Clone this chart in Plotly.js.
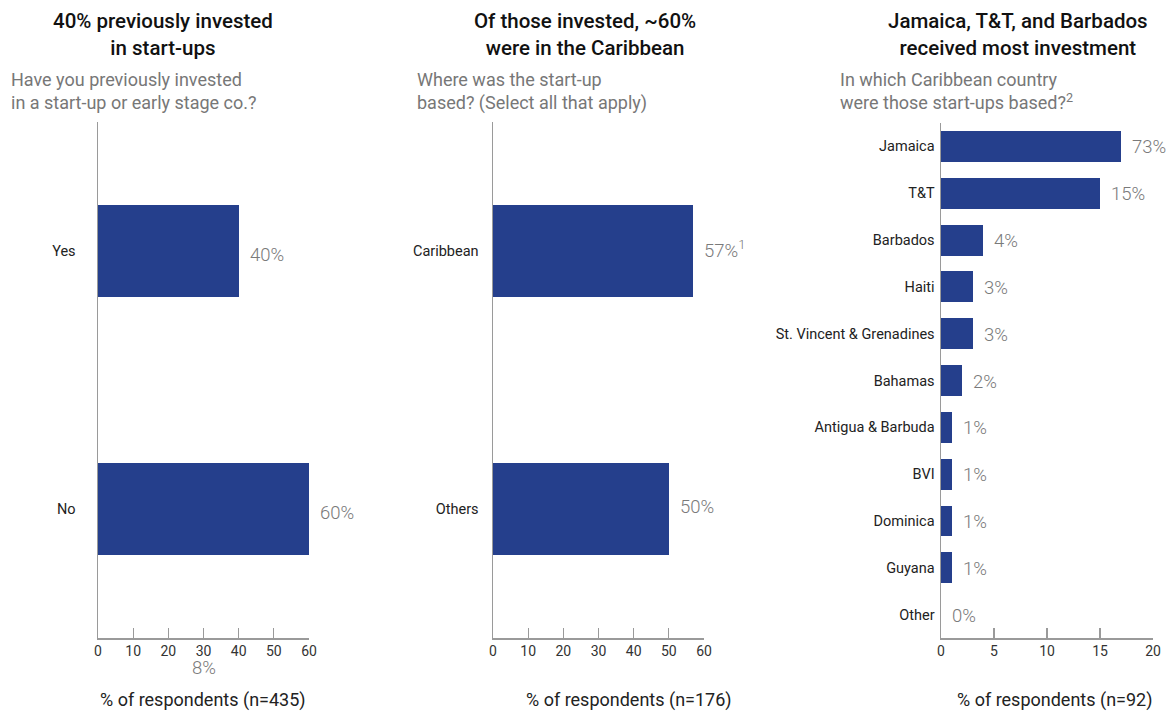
<!DOCTYPE html>
<html><head><meta charset="utf-8">
<script src="https://cdn.plot.ly/plotly-3.0.1.min.js"></script>
<style>html,body{margin:0;padding:0;background:#fff}</style>
</head><body>
<div id="chart" style="width:1166px;height:711px"></div>
<script>
// Panel 1
const p1Cats = ["Yes", "No"];
const p1Vals = [40, 60];
const p1Labels = ["40%", "60%"];
// Panel 2
const p2Cats = ["Caribbean", "Others"];
const p2Vals = [57, 50];
const p2Labels = ["57%<sup>1</sup>", "50%"];
// Panel 3
const p3Cats = ["Jamaica", "T&T", "Barbados", "Haiti", "St. Vincent & Grenadines", "Bahamas",
  "Antigua & Barbuda", "BVI", "Dominica", "Guyana", "Other"];
const p3Vals = [17, 15, 4, 3, 3, 2, 1, 1, 1, 1, 0];
const p3Labels = ["73%", "15%", "4%", "3%", "3%", "2%", "1%", "1%", "1%", "1%", "0%"];

const titles = ["40% previously invested<br>in start-ups",
  "Of those invested, ~60%<br>were in the Caribbean",
  "Jamaica, T&T, and Barbados<br>received most investment"];
const subtitles = ["Have you previously invested<br>in a start-up or early stage co.?",
  "Where was the start-up<br>based? (Select all that apply)",
  "In which Caribbean country<br>were those start-ups based?<sup>2</sup>"];
const axisTitles = ["% of respondents (n=435)", "% of respondents (n=176)", "% of respondents (n=92)"];

const W = 1166, H = 711;
const FONT = "Roboto, 'DejaVu Sans', sans-serif";
const BAR = "#253F8C";
const px = v => v / W;
const py = v => 1 - v / H;

const traces = [
  {type: "bar", orientation: "h", y: p1Cats, x: p1Vals, xaxis: "x", yaxis: "y",
   marker: {color: BAR}, width: 0.36, hoverinfo: "none"},
  {type: "bar", orientation: "h", y: p2Cats, x: p2Vals, xaxis: "x2", yaxis: "y2",
   marker: {color: BAR}, width: 0.36, hoverinfo: "none"},
  {type: "bar", orientation: "h", y: p3Cats, x: p3Vals, xaxis: "x3", yaxis: "y3",
   marker: {color: BAR}, width: 0.66, hoverinfo: "none"}
];

function xax(dom, range, dtick, anchor) {
  return {domain: dom, range: range, dtick: dtick, tick0: 0, anchor: anchor,
    showgrid: false, zeroline: false, showline: true, linecolor: "#9a9a9a", linewidth: 1.5,
    ticks: "inside", ticklen: 10, tickcolor: "#9a9a9a", tickwidth: 1.2,
    tickfont: {family: FONT, size: 14, color: "#333"}, fixedrange: true};
}
function yax(dom, anchor, standoff) {
  return {domain: dom, anchor: anchor, type: "category", autorange: "reversed",
    showgrid: false, zeroline: false, showline: true, linecolor: "#9a9a9a", linewidth: 1.5,
    ticks: "", ticklabelstandoff: standoff,
    tickfont: {family: FONT, size: 14.5, color: "#222"}, fixedrange: true};
}

const yDom12 = [py(638), py(122)];
const yDom3 = [py(638), py(123)];

const layout = {
  width: W, height: H, margin: {l: 0, r: 0, t: 0, b: 0},
  paper_bgcolor: "#fff", plot_bgcolor: "#fff", showlegend: false, bargap: 0,
  font: {family: FONT},
  xaxis: xax([px(98), px(309)], [0, 60], 10, "y"),
  yaxis: yax(yDom12, "x", 18),
  xaxis2: xax([px(493), px(704)], [0, 60], 10, "y2"),
  yaxis2: yax(yDom12, "x2", 10),
  xaxis3: xax([px(941), px(1153)], [0, 20], 5, "y3"),
  yaxis3: yax(yDom3, "x3", 2),
  annotations: []
};

const A = layout.annotations;
const titleX = [163, 585, 1018];
const subX = [9, 415, 838];
const axTitleX = [203, 629, 1054];
titles.forEach((t, i) => A.push({text: t, xref: "paper", yref: "paper",
  x: px(titleX[i]), y: py(7), xanchor: "center", yanchor: "top", showarrow: false,
  font: {family: FONT, size: 20.5, color: "#111", weight: 500}}));
subtitles.forEach((t, i) => A.push({text: t, xref: "paper", yref: "paper",
  x: px(subX[i]), y: py(67), xanchor: "left", yanchor: "top", align: "left", showarrow: false,
  font: {family: FONT, size: 18, color: "#777"}}));
axisTitles.forEach((t, i) => A.push({text: t, xref: "paper", yref: "paper",
  x: px(axTitleX[i]), y: py(700), xanchor: "center", yanchor: "middle", showarrow: false,
  font: {family: FONT, size: 18, color: "#222"}}));

const valFont = {family: FONT, size: 18.5, color: "#7a7a7a", weight: 300};
p1Cats.forEach((c, i) => A.push({text: p1Labels[i], x: p1Vals[i], y: c, xref: "x", yref: "y",
  xanchor: "left", xshift: 9, yshift: -4, showarrow: false, font: valFont}));
p2Cats.forEach((c, i) => A.push({text: p2Labels[i], x: p2Vals[i], y: c, xref: "x2", yref: "y2",
  xanchor: "left", xshift: 9, yshift: 2, showarrow: false, font: valFont}));
p3Cats.forEach((c, i) => A.push({text: p3Labels[i], x: p3Vals[i], y: c, xref: "x3", yref: "y3",
  xanchor: "left", xshift: 9, yshift: -1, showarrow: false, font: valFont}));
// stray label under panel 1 axis
A.push({text: "8%", x: 30, xref: "x", y: py(668), yref: "paper", xanchor: "center", yanchor: "middle",
  showarrow: false, font: valFont});

Plotly.newPlot("chart", traces, layout, {displayModeBar: false, staticPlot: true});
</script>
</body></html>
